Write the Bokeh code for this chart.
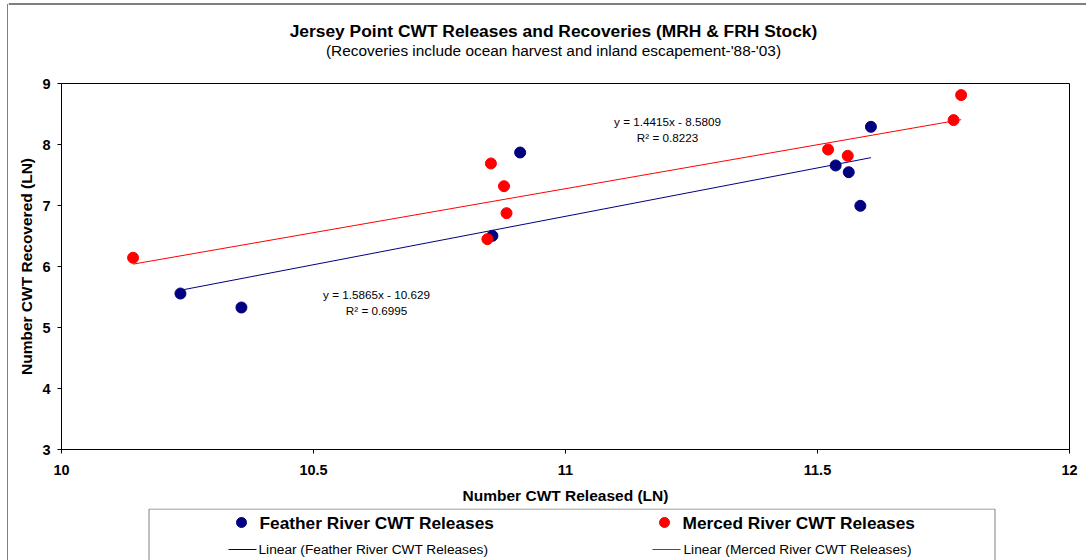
from bokeh.plotting import figure
from bokeh.models import Range1d, FixedTicker, Label
from bokeh.layouts import row, column
from bokeh.core.properties import value
from bokeh.embed import file_html
from bokeh.resources import INLINE

# ---------------- data ----------------
feather_x = [10.236, 10.357, 10.855, 10.910, 11.536, 11.562, 11.585, 11.606]
feather_y = [5.557, 5.328, 6.503, 7.869, 7.656, 7.546, 6.995, 8.290]
merced_x = [10.142, 10.852, 10.878, 10.883, 10.845, 11.521, 11.560, 11.770, 11.785]
merced_y = [6.143, 7.689, 7.317, 6.874, 6.448, 7.918, 7.815, 8.400, 8.810]

feather_slope, feather_icpt, feather_r2 = 1.5865, -10.629, 0.6995
merced_slope, merced_icpt, merced_r2 = 1.4415, -8.5809, 0.8223

x_ticks = [10, 10.5, 11, 11.5, 12]
x_tick_labels = ["10", "10.5", "11", "11.5", "12"]
y_ticks = [3, 4, 5, 6, 7, 8, 9]

title_text = "Jersey Point CWT Releases and Recoveries (MRH & FRH Stock)"
subtitle_text = "(Recoveries include ocean harvest and inland escapement-'88-'03)"
feather_name = "Feather River CWT Releases"
merced_name = "Merced River CWT Releases"

FONT = "Liberation Sans"
BLUE = "#000080"
RED = "#FF0000"


def blank(width, height, xr, yr, left=0, right=0, align=True):
    f = figure(width=width, height=height, output_backend="svg",
               toolbar_location=None, x_range=Range1d(*xr), y_range=Range1d(*yr),
               x_axis_location=None, y_axis_location=None,
               min_border=0, min_border_left=left, min_border_right=right,
               min_border_top=0, min_border_bottom=0, frame_align=align)
    f.outline_line_color = None
    f.xgrid.visible = False
    f.ygrid.visible = False
    f.background_fill_color = "white"
    f.border_fill_color = "white"
    return f


# ---------------- left strip (outer chart border) ----------------
strip = blank(8, 560, (0, 8), (560, 0), align=False)
strip.line([7.5, 7.5, 8], [560, 3.5, 3.5], line_color="black", line_width=1)

# ---------------- title strip ----------------
top = blank(1078, 75, (8, 1086), (75, 0), align=False)
top.line([8, 1086], [3.5, 3.5], line_color="black", line_width=1)
top.text([553], [30], text=[title_text], text_font=value(FONT),
         text_font_size="17.4px", text_font_style="bold", text_color="black",
         text_align="center", text_baseline="middle")
top.text([553], [50], text=[subtitle_text], text_font=value(FONT),
         text_font_size="15.4px", text_color="black",
         text_align="center", text_baseline="middle")

# ---------------- main plot ----------------
p = figure(width=1078, height=433, output_backend="svg", toolbar_location=None,
           x_range=Range1d(10, 12), y_range=Range1d(3, 9),
           min_border_left=53, min_border_right=17, min_border_top=8,
           min_border_bottom=59)
p.background_fill_color = "white"
p.border_fill_color = "white"
p.outline_line_color = "black"
p.outline_line_width = 1
p.outline_line_alpha = 1
p.xgrid.visible = False
p.ygrid.visible = False

for ax in (p.xaxis[0], p.yaxis[0]):
    ax.axis_line_color = "black"
    ax.major_tick_line_color = "black"
    ax.major_tick_in = 0
    ax.major_tick_out = 4
    ax.minor_tick_line_color = None
    ax.major_label_text_font = FONT
    ax.major_label_text_font_style = "bold"
    ax.major_label_text_font_size = "14.5px"
    ax.major_label_text_color = "black"
    ax.axis_label_text_font = FONT
    ax.axis_label_text_font_style = "bold"
    ax.axis_label_text_font_size = "15.5px"
    ax.axis_label_text_color = "black"

p.xaxis.ticker = FixedTicker(ticks=x_ticks)
p.xaxis.major_label_overrides = {t: s for t, s in zip(x_ticks, x_tick_labels)}
p.yaxis.ticker = FixedTicker(ticks=y_ticks)
p.xaxis.axis_label = "Number CWT Released (LN)"
p.yaxis.axis_label = "Number CWT Recovered (LN)"
p.xaxis.major_label_standoff = 11
p.xaxis.axis_label_standoff = 9
p.yaxis.major_label_standoff = 7
p.yaxis.axis_label_standoff = 4

# trend lines (from the fitted equations shown on the chart)
fx = [min(feather_x), max(feather_x)]
fy = [feather_slope * v + feather_icpt for v in fx]
mx = [min(merced_x), max(merced_x)]
my = [merced_slope * v + merced_icpt for v in mx]
p.line(fx, fy, line_color=BLUE, line_width=1)
p.line(mx, my, line_color=RED, line_width=1)

p.scatter(feather_x, feather_y, marker="circle", size=11,
          fill_color=BLUE, line_color=BLUE)
p.scatter(merced_x, merced_y, marker="circle", size=11,
          fill_color=RED, line_color=RED)


def lab(x, y, text):
    p.add_layout(Label(x=x, y=y, x_units="screen", y_units="screen", text=text,
                       text_font=FONT, text_font_size="11.7px",
                       text_color="black", text_align="center",
                       text_baseline="middle"))


lab(606, 328, f"y = {merced_slope}x - {abs(merced_icpt)}")
lab(606, 312, f"R\u00b2 = {merced_r2}")
lab(315, 155, f"y = {feather_slope}x - {abs(feather_icpt)}")
lab(315, 139, f"R\u00b2 = {feather_r2}")

# ---------------- legend strip (frame aligned with the main plot) ----------------
leg = blank(1078, 52, (61, 1069), (560, 508), left=53, right=17)
leg.line([148.5, 148.5, 994.5, 994.5], [560, 508.5, 508.5, 560],
         line_color="#808080", line_width=1)
leg.scatter([241], [522], marker="circle", size=10, fill_color=BLUE, line_color=BLUE)
leg.scatter([664], [522], marker="circle", size=10, fill_color=RED, line_color=RED)
leg.text([259, 682], [522, 522], text=[feather_name, merced_name],
         text_font=value(FONT), text_font_size="17.3px", text_font_style="bold",
         text_color="black", text_align="left", text_baseline="middle")
leg.line([228, 256], [549, 549], line_color=BLUE, line_width=1)
leg.line([652, 680], [549, 549], line_color=RED, line_width=1)
leg.text([258, 683], [549, 549],
         text=[f"Linear ({feather_name})", f"Linear ({merced_name})"],
         text_font=value(FONT), text_font_size="13.7px",
         text_color="black", text_align="left", text_baseline="middle")

layout = row(strip, column(top, p, leg, spacing=0), spacing=0)

open("out.html", "w").write(file_html(layout, INLINE))
